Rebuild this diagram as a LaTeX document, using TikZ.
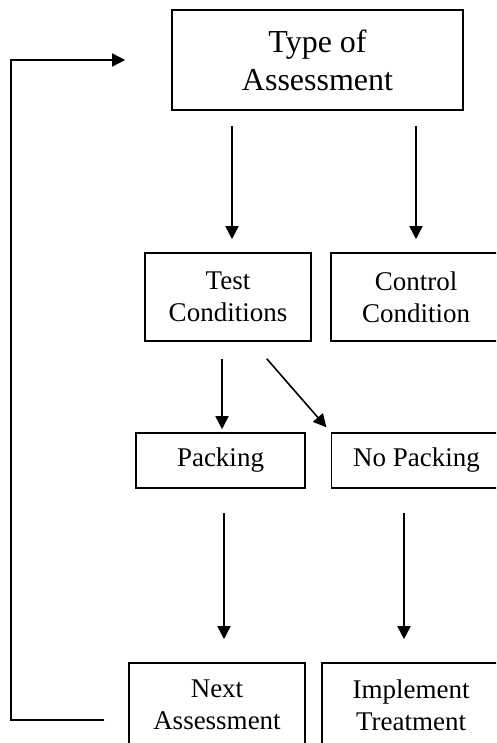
\documentclass[tikz,border=0pt]{standalone}
\usepackage{fontspec}
\setmainfont{Liberation Serif}
\usetikzlibrary{arrows.meta}

\begin{document}
\begin{tikzpicture}[x=1pt,y=-1pt, line width=1.6pt,
    >={Triangle[length=13pt,width=13pt]},
    box/.style={draw, align=center, inner sep=0pt,
        font=\fontsize{27}{32}\selectfont}]

    \useasboundingbox (0,0) rectangle (496,743);
    \clip (0,0) rectangle (496,743);

    \node[box, minimum width=291pt, minimum height=100pt,
        font=\fontsize{32}{38}\selectfont] (assess) at (317.5,60) {Type of\\Assessment};
    \node[box, minimum width=166pt, minimum height=88pt] (test) at (228,297) {Test\\Conditions};
    \node[box, minimum width=170pt, minimum height=88pt] (control) at (416,297) {Control\\Condition};
    \node[box, minimum width=169pt, minimum height=55pt] (pack) at (220.5,460.5) {Packing};
    \node[box, minimum width=170pt, minimum height=55pt] (nopack) at (416.5,460.5) {No Packing};
    \node[box, minimum width=176pt, minimum height=84pt] (next) at (217,705) {Next\\Assessment};
    \node[box, minimum width=178pt, minimum height=84pt] (treat) at (411,705) {Implement\\Treatment};
    \coordinate (loop) at (11,400);

    \draw[->, shorten <=15pt, shorten >=13pt] ([xshift=-85.5pt]assess.south) -- ([xshift=4pt]test.north);
    \draw[->, shorten <=15pt, shorten >=13pt] (control.north |- assess.south) -- (control.north);
    \draw[->, shorten <=17pt, shorten >=3pt] ([xshift=1.5pt]pack.north |- test.south) -- ([xshift=1.5pt]pack.north);
    \draw[->, shorten <=22.5pt, shorten >=6.5pt] ([xshift=24pt]test.south) -- (nopack.north west);
    \draw[->, shorten <=24pt, shorten >=23pt] ([xshift=3.5pt]pack.south) -- ([xshift=7pt]next.north);
    \draw[->, shorten <=24pt, shorten >=23pt] ([xshift=-12.5pt]nopack.south) -- ([xshift=-7pt]treat.north);
    \draw[->, shorten <=24pt, shorten >=46pt] ([yshift=-15pt]next.west) -| (loop) |- (assess.west);
\end{tikzpicture}
\end{document}
